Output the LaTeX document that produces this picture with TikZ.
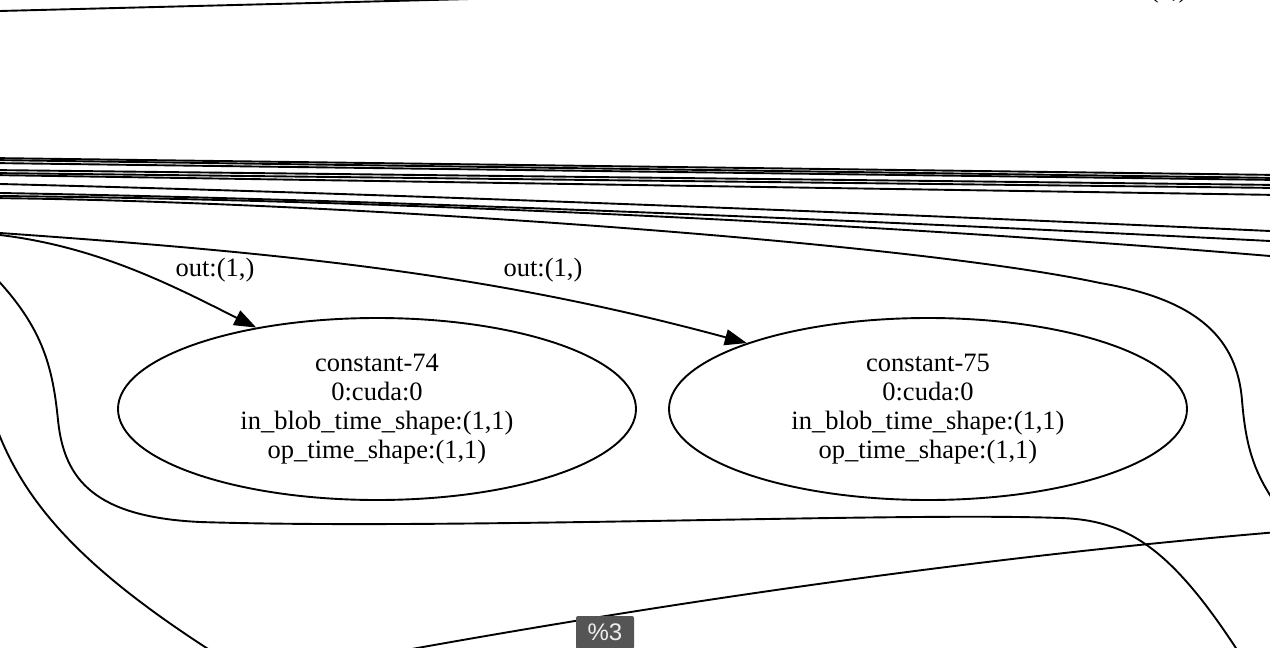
\documentclass[tikz,border=0pt]{standalone}
\usepackage{fontspec}
\setmainfont{Liberation Serif}
\newfontfamily\tagfont{Liberation Sans}
\usetikzlibrary{shapes.geometric,arrows.meta}
\definecolor{tagbg}{HTML}{555555}
\definecolor{tagfg}{HTML}{EEEEEE}

\begin{document}
\begin{tikzpicture}[x=1pt, y=-1pt,
  wire/.style={line width=1.9pt},
  arrowwire/.style={wire, -{Triangle[length=22pt,width=16pt]}},
  opnode/.style={ellipse, draw, line width=1.9pt, minimum width=518pt,
    minimum height=182pt, inner sep=0pt, align=center,
    font=\fontsize{26.5}{29}\selectfont},
  outlabel/.style={inner sep=0pt, font=\fontsize{26.5}{29}\selectfont}]
  % 画布范围（像素坐标，y 向下）
  \useasboundingbox (0,0) rectangle (1270,648);
  \clip (0,0) rectangle (1270,648);
  \fill[white] (0,0) rectangle (1270,648);

  % 两个 constant 节点
  \node[opnode] (c74) at (377,409) {constant-74\\0:cuda:0\\in\_blob\_time\_shape:(1,1)\\op\_time\_shape:(1,1)};
  \node[opnode] (c75) at (928,409) {constant-75\\0:cuda:0\\in\_blob\_time\_shape:(1,1)\\op\_time\_shape:(1,1)};

  % 顶部被截断的边和标签
  \coordinate (ta) at (-20,11.5);
  \coordinate (tb) at (470,-1);
  \draw[wire] (ta) -- (tb);
  \node[outlabel] (lbltop) at (1148,-9) {out:(1,)};

  % 上方一束近似水平的边
  \foreach \ya/\yb [count=\i] in {158/175,160/178,163/180,170/185,173/188,175/195}{
    \coordinate (ua\i) at (-10,\ya);
    \coordinate (ub\i) at (1280,\yb);
    \draw[wire] (ua\i) -- (ub\i);
  }
  \foreach \ya/\yc/\yd/\yb [count=\i] in {184/194/214/231,193/200/222/241,196/200/225/256}{
    \coordinate (la\i) at (0,\ya);
    \coordinate (lb\i) at (1270,\yb);
    \draw[wire] (la\i) .. controls (400,\yc) and (900,\yd) .. (lb\i);
  }

  % 右侧绕下去的边
  \coordinate (ja) at (-20,198);
  \coordinate (jb) at (1280,510);
  \draw[wire] (ja) .. controls (300,200) and (900,240) .. (1100,283)
    .. controls (1200,300) and (1237,340) .. (1242,400)
    .. controls (1246,450) and (1255,475) .. (jb);

  % 指向 constant 节点的边
  \coordinate (src74) at (0,235);
  \coordinate (src75) at (0,233);
  \draw[arrowwire] (src74) .. controls (100,247) and (176,287.5) .. (c74.146);
  \draw[arrowwire] (src75) .. controls (300,254) and (497,275.5) .. (c75.160);
  \node[outlabel] (lbl74) at (215,270) {out:(1,)};
  \node[outlabel] (lbl75) at (543,270) {out:(1,)};

  % 左侧和下方的曲线
  \coordinate (c1a) at (-20,262);
  \coordinate (c1b) at (1250,670);
  \draw[wire] (c1a) .. controls (40,320) and (52,360) .. (58,420)
    .. controls (64,480) and (95,517) .. (200,522)
    .. controls (450,530) and (900,512) .. (1060,518)
    .. controls (1130,520) and (1175,550) .. (c1b);
  \coordinate (c2a) at (-8,415);
  \coordinate (c2b) at (235,666);
  \draw[wire] (c2a) .. controls (20,500) and (80,570) .. (c2b);
  \coordinate (c3a) at (395,652);
  \coordinate (c3b) at (1290,531);
  \draw[wire] (c3a) .. controls (700,597) and (1000,555) .. (c3b);

  % 标题标签
  \node[fill=tagbg, text=tagfg, rounded corners=2pt, inner sep=0pt,
    minimum width=58pt, minimum height=33pt,
    font=\tagfont\fontsize{24}{24}\selectfont] (title) at (605,632.5) {\%3};
\end{tikzpicture}
\end{document}
